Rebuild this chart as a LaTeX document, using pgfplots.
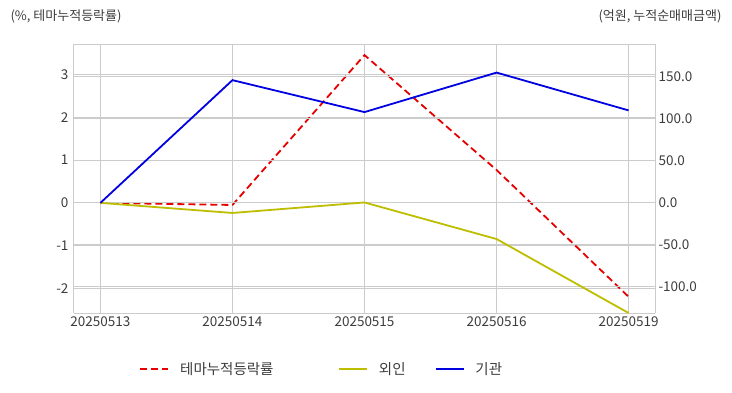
\documentclass[border=0pt]{standalone}
\usepackage{pgfplots}
\pgfplotsset{compat=1.18}
\usepackage{fontspec}
\setmainfont{Noto Sans CJK KR}
\definecolor{txt}{RGB}{60,60,60}
\definecolor{gridc}{RGB}{204,204,204}
\definecolor{cred}{RGB}{230,0,0}
\definecolor{cyel}{RGB}{190,190,0}
\definecolor{cblue}{RGB}{0,0,225}
\begin{document}
\begin{tikzpicture}[x=1pt,y=1pt]
\useasboundingbox (0,0) rectangle (732,392);
\pgfplotsset{
  every axis/.append style={
    scale only axis, width=581pt, height=269pt,
    at={(74pt,79pt)}, anchor=south west,
    xmin=-0.2, xmax=4.2,
    axis line style={gridc, line width=1pt},
    major tick length=0pt,
    tick label style={font=\fontsize{13.5}{15}\selectfont, text=txt},
    /pgf/number format/assume math mode=true,
    grid style={gridc, line width=1pt},
  }
}
\begin{axis}[
  ymin=-2.58, ymax=3.72,
  ytick={-2,-1,0,1,2,3},
  xtick={0,1,2,3,4},
  xticklabels={20250513,20250514,20250515,20250516,20250519},
  xmajorgrids, ymajorgrids,
  axis y line*=left, axis x line*=bottom,
  yticklabel style={xshift=-2pt},
  xticklabel style={yshift=0pt},
]
\addplot[cred, line width=1.8pt, dash pattern=on 7pt off 4pt] coordinates {(0,0) (1,-0.05) (2,3.46) (3,0.77) (4,-2.2)};
\end{axis}
\begin{axis}[
  ymin=-131, ymax=189,
  ytick={-100,-50,0,50,100,150},
  yticklabel style={/pgf/number format/.cd, fixed, fixed zerofill, precision=1},
  axis y line*=right, axis x line*=top,
  xtick=\empty,
  ymajorgrids,
  legend style={at={(0.107,-0.208)}, anchor=west, draw=none, fill=none,
    font=\fontsize{14.5}{16}\selectfont, text=txt, legend columns=3,
    /tikz/every odd column/.append style={column sep=9pt},
    /tikz/every even column/.append style={column sep=27pt}},
  legend image code/.code={\draw[#1] (0pt,0pt) -- (28pt,0pt);},
  legend cell align=left,
]
\addlegendimage{cred, line width=1.8pt, dash pattern=on 7pt off 4pt}
\addlegendentry{\makebox[129pt][l]{테마누적등락률}}
\addplot[cyel, line width=1.8pt] coordinates {(0,0) (1,-12) (2,0.5) (3,-43) (4,-131)};
\addlegendentry{외인}
\addplot[cblue, line width=1.8pt] coordinates {(0,0) (1,146) (2,108) (3,155) (4,110)};
\addlegendentry{기관}
\end{axis}
\node[anchor=west, text=txt, font=\fontsize{13}{15}\selectfont] at (7,376) {(\%, 테마누적등락률)};
\node[anchor=east, text=txt, font=\fontsize{13}{15}\selectfont] at (725,376) {(억원, 누적순매매금액)};
\end{tikzpicture}
\end{document}
